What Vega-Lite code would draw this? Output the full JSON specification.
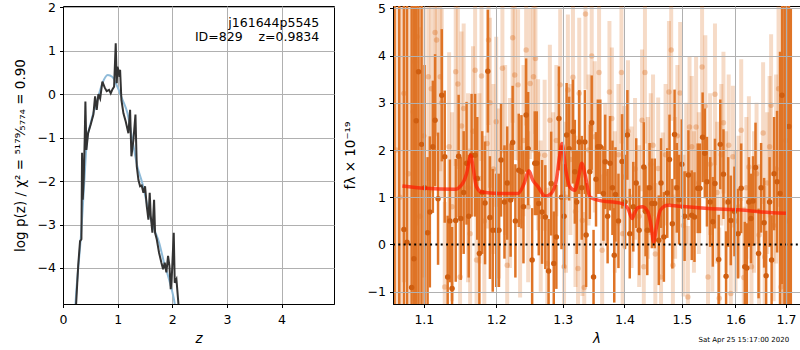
{
  "$schema": "https://vega.github.io/schema/vega-lite/v6.json",
  "padding": {"left": 12, "top": 0, "right": 0, "bottom": 0},
  "spacing": 59,
  "bounds": "flush",
  "config": {
    "font": "DejaVu Sans",
    "view": {"stroke": "black", "strokeWidth": 1},
    "axis": {"domainColor": "black", "domainWidth": 1, "tickColor": "black", "tickSize": 3.5, "tickWidth": 1,
      "labelFontSize": 12.5, "labelColor": "black", "labelFont": "DejaVu Sans", "labelFlush": false, "labelOverlap": false,
      "titleFontSize": 13.5, "titleFontWeight": "normal", "titleColor": "black", "titleFont": "DejaVu Sans",
      "gridColor": "#b0b0b0", "gridWidth": 1, "labelPadding": 4, "titlePadding": 6}
  },
  "datasets": {
    "blue": [
      {"z": 0.21, "lp": -5.2}, {"z": 0.24, "lp": -4.6}, {"z": 0.30, "lp": -3.7}, {"z": 0.324, "lp": -3.34},
      {"z": 0.385, "lp": -2.12}, {"z": 0.434, "lp": -1.12}, {"z": 0.506, "lp": -0.67}, {"z": 0.63, "lp": -0.13},
      {"z": 0.72, "lp": 0.25}, {"z": 0.82, "lp": 0.44}, {"z": 0.90, "lp": 0.40}, {"z": 0.996, "lp": 0.17},
      {"z": 1.09, "lp": -0.13}, {"z": 1.18, "lp": -0.44}, {"z": 1.27, "lp": -1.05}, {"z": 1.36, "lp": -1.66},
      {"z": 1.45, "lp": -2.04}, {"z": 1.575, "lp": -2.73}, {"z": 1.67, "lp": -3.11}, {"z": 1.76, "lp": -3.42},
      {"z": 1.85, "lp": -3.88}, {"z": 1.94, "lp": -4.26}, {"z": 2.03, "lp": -4.72}, {"z": 2.08, "lp": -5.1}
    ],
    "dark": [
      {"z": 0.225, "lp": -5.5}, {"z": 0.24, "lp": -4.83}, {"z": 0.278, "lp": -3.95}, {"z": 0.312, "lp": -3.38},
      {"z": 0.337, "lp": -3.34}, {"z": 0.349, "lp": -1.35}, {"z": 0.361, "lp": -2.43}, {"z": 0.379, "lp": -1.97},
      {"z": 0.397, "lp": -1.05}, {"z": 0.41, "lp": -0.17}, {"z": 0.428, "lp": -1.28}, {"z": 0.459, "lp": -0.9},
      {"z": 0.507, "lp": -0.7}, {"z": 0.556, "lp": -0.47}, {"z": 0.587, "lp": -0.05}, {"z": 0.617, "lp": -0.36},
      {"z": 0.648, "lp": 0.0}, {"z": 0.68, "lp": -0.1}, {"z": 0.721, "lp": 0.29}, {"z": 0.764, "lp": 0.15},
      {"z": 0.8, "lp": 0.07}, {"z": 0.843, "lp": 0.1}, {"z": 0.874, "lp": 0.02}, {"z": 0.904, "lp": 0.11},
      {"z": 0.935, "lp": 0.17}, {"z": 0.965, "lp": 1.17}, {"z": 0.984, "lp": 0.25}, {"z": 0.996, "lp": 0.63},
      {"z": 1.014, "lp": 0.56}, {"z": 1.032, "lp": 0.4}, {"z": 1.045, "lp": 0.56}, {"z": 1.069, "lp": -0.13},
      {"z": 1.106, "lp": -0.44}, {"z": 1.148, "lp": -0.63}, {"z": 1.197, "lp": -0.9}, {"z": 1.228, "lp": -0.36},
      {"z": 1.252, "lp": -1.43}, {"z": 1.289, "lp": -1.05}, {"z": 1.326, "lp": -0.47}, {"z": 1.35, "lp": -1.66},
      {"z": 1.38, "lp": -1.97}, {"z": 1.411, "lp": -2.12}, {"z": 1.44, "lp": -2.1}, {"z": 1.472, "lp": -2.27},
      {"z": 1.502, "lp": -2.12}, {"z": 1.533, "lp": -2.58}, {"z": 1.563, "lp": -2.89}, {"z": 1.587, "lp": -2.27},
      {"z": 1.606, "lp": -2.8}, {"z": 1.636, "lp": -3.19}, {"z": 1.667, "lp": -2.43}, {"z": 1.685, "lp": -3.19},
      {"z": 1.716, "lp": -3.34}, {"z": 1.758, "lp": -3.65}, {"z": 1.801, "lp": -3.88}, {"z": 1.832, "lp": -4.03},
      {"z": 1.862, "lp": -3.88}, {"z": 1.892, "lp": -4.1}, {"z": 1.923, "lp": -3.72}, {"z": 1.948, "lp": -3.95},
      {"z": 1.972, "lp": -4.49}, {"z": 1.995, "lp": -4.1}, {"z": 2.027, "lp": -3.19}, {"z": 2.045, "lp": -4.34},
      {"z": 2.076, "lp": -4.26}, {"z": 2.113, "lp": -4.83}, {"z": 2.14, "lp": -5.5}
    ],
    "spec_dark": [
      {"l": 1.062, "f": 6.5, "e": 8}, {"l": 1.068, "f": 6.0, "e": 8},
      {"l": 1.074, "f": 0.32, "e": 6}, {"l": 1.078, "f": 0.05, "e": 6}, {"l": 1.084, "f": -0.91, "e": 6},
      {"l": 1.087, "f": -0.3, "e": 6}, {"l": 1.090, "f": 2.62, "e": 5}, {"l": 1.093, "f": 3.66, "e": 5}, {"l": 1.097, "f": 2.12, "e": 4},
      {"l": 1.101, "f": 1.2, "e": 2.6}, {"l": 1.105, "f": 0.25, "e": 1.6}, {"l": 1.108, "f": 0.69, "e": 1.6}, {"l": 1.112, "f": 2.07, "e": 1.4},
      {"l": 1.115, "f": 2.63, "e": 1.4}, {"l": 1.119, "f": 0.97, "e": 1.4}, {"l": 1.124, "f": 3.16, "e": 1.4}, {"l": 1.128, "f": 1.86, "e": 1.4},
      {"l": 1.132, "f": -0.69, "e": 1.3}, {"l": 1.135, "f": 0.5, "e": 1.3}, {"l": 1.138, "f": -0.93, "e": 1.3}, {"l": 1.143, "f": 0.51, "e": 1.3},
      {"l": 1.147, "f": 1.87, "e": 1.3}, {"l": 1.150, "f": 0.55, "e": 1.3}, {"l": 1.154, "f": 1.1, "e": 1.3}, {"l": 1.158, "f": 1.72, "e": 1.3},
      {"l": 1.161, "f": 0.6, "e": 1.3}, {"l": 1.165, "f": 1.89, "e": 1.3}, {"l": 1.170, "f": 1.89, "e": 1.3}, {"l": 1.173, "f": 1.4, "e": 1.3},
      {"l": 1.176, "f": -0.19, "e": 1.3}, {"l": 1.180, "f": 1.1, "e": 1.3}, {"l": 1.184, "f": 0.88, "e": 1.3}, {"l": 1.188, "f": 3.67, "e": 1.3},
      {"l": 1.191, "f": 0.57, "e": 1.3}, {"l": 1.195, "f": 0.30, "e": 1.3}, {"l": 1.200, "f": 0.3, "e": 1.2}, {"l": 1.204, "f": 0.3, "e": 1.2},
      {"l": 1.207, "f": 1.79, "e": 1.2}, {"l": 1.212, "f": 0.9, "e": 1.2}, {"l": 1.216, "f": 1.3, "e": 1.2}, {"l": 1.221, "f": 0.94, "e": 1.2},
      {"l": 1.224, "f": 2.16, "e": 1.2}, {"l": 1.228, "f": 0.5, "e": 1.2}, {"l": 1.233, "f": 1.57, "e": 1.2}, {"l": 1.237, "f": 1.54, "e": 1.2},
      {"l": 1.240, "f": 0.8, "e": 1.2}, {"l": 1.244, "f": 2.74, "e": 1.2}, {"l": 1.247, "f": 2.03, "e": 1.2}, {"l": 1.253, "f": -0.33, "e": 1.1},
      {"l": 1.257, "f": 1.72, "e": 1.1}, {"l": 1.260, "f": 1.72, "e": 1.1}, {"l": 1.263, "f": 0.87, "e": 1.1}, {"l": 1.268, "f": 0.69, "e": 1.1},
      {"l": 1.273, "f": 0.58, "e": 1.1}, {"l": 1.278, "f": -0.56, "e": 1.1}, {"l": 1.282, "f": 1.29, "e": 1.1}, {"l": 1.286, "f": -0.4, "e": 1.1},
      {"l": 1.290, "f": 0.16, "e": 1.1}, {"l": 1.294, "f": 2.67, "e": 1.1}, {"l": 1.298, "f": 1.0, "e": 1.1}, {"l": 1.302, "f": 0.6, "e": 1.1},
      {"l": 1.306, "f": 2.32, "e": 1.1}, {"l": 1.310, "f": 2.03, "e": 1.1}, {"l": 1.316, "f": 2.39, "e": 1.1}, {"l": 1.319, "f": 1.54, "e": 1.1},
      {"l": 1.322, "f": 0.9, "e": 1.1}, {"l": 1.326, "f": 2.17, "e": 1.1}, {"l": 1.330, "f": 1.2, "e": 1.1}, {"l": 1.335, "f": 2.17, "e": 1.1},
      {"l": 1.337, "f": 0.2, "e": 1.1}, {"l": 1.343, "f": 1.54, "e": 1.0}, {"l": 1.346, "f": 2.58, "e": 1.0}, {"l": 1.349, "f": -0.69, "e": 1.0},
      {"l": 1.353, "f": 1.38, "e": 1.0}, {"l": 1.356, "f": 2.07, "e": 1.0}, {"l": 1.360, "f": 2.07, "e": 1.0}, {"l": 1.365, "f": 1.08, "e": 1.0},
      {"l": 1.368, "f": 1.75, "e": 1.0}, {"l": 1.372, "f": 0.6, "e": 1.0}, {"l": 1.376, "f": 1.72, "e": 1.0}, {"l": 1.380, "f": 1.2, "e": 1.0},
      {"l": 1.383, "f": -0.23, "e": 1.0}, {"l": 1.385, "f": 1.06, "e": 1.0}, {"l": 1.390, "f": 0.5, "e": 1.0}, {"l": 1.396, "f": 1.76, "e": 1.0},
      {"l": 1.401, "f": 0.9, "e": 1.0}, {"l": 1.405, "f": 2.32, "e": 0.95}, {"l": 1.409, "f": 0.23, "e": 0.95}, {"l": 1.415, "f": 0.8, "e": 0.95},
      {"l": 1.420, "f": 1.3, "e": 0.95}, {"l": 1.425, "f": 0.3, "e": 0.95}, {"l": 1.433, "f": 1.64, "e": 0.95}, {"l": 1.436, "f": 0.7, "e": 0.95},
      {"l": 1.439, "f": 0.3, "e": 0.95}, {"l": 1.443, "f": 1.2, "e": 0.95}, {"l": 1.447, "f": 0.87, "e": 0.95}, {"l": 1.452, "f": 0.87, "e": 0.95},
      {"l": 1.459, "f": 0.09, "e": 0.95}, {"l": 1.463, "f": 1.3, "e": 0.95}, {"l": 1.468, "f": 0.16, "e": 0.95}, {"l": 1.474, "f": 1.09, "e": 0.95},
      {"l": 1.478, "f": 1.8, "e": 0.95}, {"l": 1.483, "f": 0.44, "e": 0.95}, {"l": 1.487, "f": 2.33, "e": 0.95}, {"l": 1.491, "f": 1.2, "e": 0.95},
      {"l": 1.495, "f": 0.95, "e": 0.95}, {"l": 1.500, "f": 1.7, "e": 0.95}, {"l": 1.505, "f": 0.6, "e": 0.95}, {"l": 1.512, "f": 1.47, "e": 0.95},
      {"l": 1.518, "f": 0.62, "e": 0.95}, {"l": 1.523, "f": 0.58, "e": 0.95}, {"l": 1.529, "f": 1.19, "e": 0.95}, {"l": 1.533, "f": 1.19, "e": 0.95},
      {"l": 1.538, "f": 2.27, "e": 0.95}, {"l": 1.542, "f": 1.93, "e": 0.95}, {"l": 1.546, "f": 1.33, "e": 0.95}, {"l": 1.552, "f": 0.9, "e": 0.95},
      {"l": 1.557, "f": 0.48, "e": 0.95}, {"l": 1.561, "f": 1.29, "e": 0.95}, {"l": 1.568, "f": -0.32, "e": 0.95}, {"l": 1.571, "f": 2.12, "e": 0.95},
      {"l": 1.577, "f": 1.49, "e": 0.95}, {"l": 1.582, "f": -0.67, "e": 0.95}, {"l": 1.586, "f": 0.9, "e": 0.95}, {"l": 1.591, "f": 0.51, "e": 0.95},
      {"l": 1.598, "f": 0.7, "e": 0.95}, {"l": 1.605, "f": 0.23, "e": 0.95}, {"l": 1.611, "f": 1.19, "e": 0.95}, {"l": 1.618, "f": -0.47, "e": 0.95},
      {"l": 1.622, "f": -0.5, "e": 0.95}, {"l": 1.626, "f": 0.9, "e": 0.95}, {"l": 1.630, "f": 0.55, "e": 0.95}, {"l": 1.634, "f": 0.92, "e": 0.95},
      {"l": 1.639, "f": 1.63, "e": 0.95}, {"l": 1.645, "f": -0.19, "e": 0.95}, {"l": 1.650, "f": 1.2, "e": 0.95}, {"l": 1.656, "f": 0.46, "e": 0.95},
      {"l": 1.660, "f": -0.66, "e": 0.95}, {"l": 1.667, "f": 0.9, "e": 0.95}, {"l": 1.671, "f": -0.33, "e": 0.95}, {"l": 1.676, "f": 1.5, "e": 1.2},
      {"l": 1.682, "f": 1.33, "e": 1.5}, {"l": 1.688, "f": 1.08, "e": 3}, {"l": 1.692, "f": 3.16, "e": 4}, {"l": 1.697, "f": -2.0, "e": 8},
      {"l": 1.701, "f": 6.0, "e": 8}, {"l": 1.706, "f": 2.5, "e": 8}, {"l": 1.710, "f": -3.0, "e": 8}
    ],
    "spec_light": [
      {"l": 1.064, "f": 2.0, "e": 6}, {"l": 1.069, "f": 1.0, "e": 6},
      {"l": 1.074, "f": 3.2, "e": 4}, {"l": 1.080, "f": 1.5, "e": 4}, {"l": 1.086, "f": 2.81, "e": 4}, {"l": 1.088, "f": 3.87, "e": 4},
      {"l": 1.091, "f": 4.4, "e": 4}, {"l": 1.095, "f": 0.6, "e": 4}, {"l": 1.100, "f": 2.3, "e": 3}, {"l": 1.106, "f": 3.55, "e": 2.2},
      {"l": 1.110, "f": 3.3, "e": 2.2}, {"l": 1.115, "f": 4.49, "e": 2.2}, {"l": 1.117, "f": 4.33, "e": 2.0}, {"l": 1.122, "f": 3.55, "e": 2.0},
      {"l": 1.124, "f": 3.0, "e": 2.0}, {"l": 1.128, "f": -0.9, "e": 1.8}, {"l": 1.134, "f": 2.07, "e": 2.0}, {"l": 1.138, "f": 0.8, "e": 2.0},
      {"l": 1.143, "f": 3.66, "e": 2.0}, {"l": 1.146, "f": 3.4, "e": 1.8}, {"l": 1.149, "f": -0.69, "e": 1.8}, {"l": 1.151, "f": 2.51, "e": 2.0},
      {"l": 1.154, "f": 2.88, "e": 1.8}, {"l": 1.160, "f": 1.2, "e": 2.0}, {"l": 1.163, "f": 0.23, "e": 1.8}, {"l": 1.167, "f": 2.4, "e": 1.8},
      {"l": 1.170, "f": 3.69, "e": 1.8}, {"l": 1.172, "f": -0.33, "e": 1.8}, {"l": 1.176, "f": 1.4, "e": 1.8}, {"l": 1.179, "f": 3.57, "e": 1.8},
      {"l": 1.183, "f": 0.5, "e": 1.8}, {"l": 1.187, "f": 2.14, "e": 1.8}, {"l": 1.189, "f": 4.33, "e": 1.8}, {"l": 1.191, "f": 3.0, "e": 1.8},
      {"l": 1.196, "f": 1.6, "e": 1.8}, {"l": 1.200, "f": 2.6, "e": 1.8}, {"l": 1.204, "f": 1.08, "e": 1.8}, {"l": 1.209, "f": 3.73, "e": 1.8},
      {"l": 1.213, "f": 2.0, "e": 1.8}, {"l": 1.216, "f": -0.44, "e": 1.8}, {"l": 1.220, "f": 1.3, "e": 1.8}, {"l": 1.224, "f": 4.38, "e": 1.8},
      {"l": 1.227, "f": 3.59, "e": 1.8}, {"l": 1.232, "f": 3.38, "e": 1.6}, {"l": 1.235, "f": 0.48, "e": 1.6}, {"l": 1.240, "f": 2.2, "e": 1.6},
      {"l": 1.244, "f": 4.12, "e": 1.6}, {"l": 1.247, "f": 0.8, "e": 1.6}, {"l": 1.250, "f": 3.41, "e": 1.6}, {"l": 1.255, "f": 3.55, "e": 1.6},
      {"l": 1.258, "f": 3.94, "e": 1.6}, {"l": 1.262, "f": 1.9, "e": 1.6}, {"l": 1.266, "f": 0.6, "e": 1.6}, {"l": 1.272, "f": 1.89, "e": 1.6},
      {"l": 1.276, "f": -0.4, "e": 1.6}, {"l": 1.280, "f": 2.63, "e": 1.6}, {"l": 1.285, "f": 1.2, "e": 1.6}, {"l": 1.290, "f": 2.2, "e": 1.6},
      {"l": 1.296, "f": 3.38, "e": 1.6}, {"l": 1.302, "f": -0.47, "e": 1.6}, {"l": 1.305, "f": 1.0, "e": 1.6}, {"l": 1.308, "f": 3.27, "e": 1.6},
      {"l": 1.312, "f": 1.8, "e": 1.6}, {"l": 1.316, "f": 3.54, "e": 1.6}, {"l": 1.320, "f": 0.7, "e": 1.6}, {"l": 1.324, "f": -0.51, "e": 1.6},
      {"l": 1.326, "f": 3.2, "e": 1.6}, {"l": 1.331, "f": 0.51, "e": 1.6}, {"l": 1.334, "f": -0.91, "e": 1.6}, {"l": 1.336, "f": 4.88, "e": 1.6},
      {"l": 1.341, "f": 2.0, "e": 1.6}, {"l": 1.346, "f": 3.99, "e": 1.6}, {"l": 1.351, "f": 2.28, "e": 1.6}, {"l": 1.358, "f": 3.64, "e": 1.6},
      {"l": 1.363, "f": -0.12, "e": 1.6}, {"l": 1.368, "f": 1.5, "e": 1.5}, {"l": 1.375, "f": 3.23, "e": 1.5}, {"l": 1.379, "f": 2.67, "e": 1.5},
      {"l": 1.384, "f": 0.9, "e": 1.5}, {"l": 1.390, "f": 1.9, "e": 1.5}, {"l": 1.395, "f": 3.64, "e": 1.5}, {"l": 1.397, "f": 0.23, "e": 1.5},
      {"l": 1.400, "f": 1.43, "e": 1.5}, {"l": 1.406, "f": 2.4, "e": 1.5}, {"l": 1.412, "f": 1.0, "e": 1.5}, {"l": 1.418, "f": 1.6, "e": 1.5},
      {"l": 1.425, "f": 0.6, "e": 1.5}, {"l": 1.430, "f": 2.63, "e": 1.5}, {"l": 1.433, "f": -0.47, "e": 1.5}, {"l": 1.435, "f": 3.64, "e": 1.5},
      {"l": 1.440, "f": 1.2, "e": 1.5}, {"l": 1.445, "f": 1.7, "e": 1.5}, {"l": 1.449, "f": 2.1, "e": 1.5}, {"l": 1.453, "f": -0.2, "e": 1.5},
      {"l": 1.458, "f": 1.61, "e": 1.5}, {"l": 1.463, "f": -0.69, "e": 1.5}, {"l": 1.466, "f": 0.87, "e": 1.5}, {"l": 1.471, "f": 1.9, "e": 1.5},
      {"l": 1.477, "f": 3.23, "e": 1.5}, {"l": 1.481, "f": 4.12, "e": 1.5}, {"l": 1.484, "f": -0.44, "e": 1.5}, {"l": 1.488, "f": 1.2, "e": 1.5},
      {"l": 1.492, "f": 2.3, "e": 1.5}, {"l": 1.497, "f": 3.21, "e": 1.5}, {"l": 1.503, "f": 0.4, "e": 1.5}, {"l": 1.508, "f": 1.5, "e": 1.5},
      {"l": 1.511, "f": -1.11, "e": 1.5}, {"l": 1.514, "f": 2.49, "e": 1.5}, {"l": 1.518, "f": 2.07, "e": 1.5}, {"l": 1.522, "f": 0.9, "e": 1.5},
      {"l": 1.526, "f": 2.49, "e": 1.5}, {"l": 1.531, "f": 1.3, "e": 1.5}, {"l": 1.537, "f": 3.76, "e": 1.5}, {"l": 1.543, "f": 2.93, "e": 1.5},
      {"l": 1.548, "f": -0.69, "e": 1.5}, {"l": 1.552, "f": 1.7, "e": 1.5}, {"l": 1.556, "f": 0.5, "e": 1.5}, {"l": 1.561, "f": 3.18, "e": 1.5},
      {"l": 1.565, "f": 1.1, "e": 1.5}, {"l": 1.569, "f": -1.14, "e": 1.5}, {"l": 1.573, "f": 1.9, "e": 1.5}, {"l": 1.577, "f": 2.58, "e": 1.5},
      {"l": 1.582, "f": 0.9, "e": 1.5}, {"l": 1.587, "f": 2.1, "e": 1.5}, {"l": 1.591, "f": -1.04, "e": 1.5}, {"l": 1.595, "f": 1.86, "e": 1.5},
      {"l": 1.600, "f": 0.5, "e": 1.5}, {"l": 1.606, "f": 0.8, "e": 1.5}, {"l": 1.611, "f": 2.42, "e": 1.5}, {"l": 1.616, "f": -0.7, "e": 1.5},
      {"l": 1.621, "f": 1.2, "e": 1.5}, {"l": 1.626, "f": 1.64, "e": 1.5}, {"l": 1.631, "f": -0.47, "e": 1.5}, {"l": 1.636, "f": 0.9, "e": 1.5},
      {"l": 1.641, "f": 1.5, "e": 1.5}, {"l": 1.646, "f": 0.2, "e": 1.5}, {"l": 1.654, "f": 2.36, "e": 1.5}, {"l": 1.657, "f": -0.26, "e": 1.5},
      {"l": 1.662, "f": 1.3, "e": 1.5}, {"l": 1.667, "f": 2.07, "e": 1.5}, {"l": 1.670, "f": 2.95, "e": 1.5}, {"l": 1.675, "f": 0.4, "e": 1.6},
      {"l": 1.680, "f": 1.6, "e": 2}, {"l": 1.685, "f": 3.3, "e": 2.5}, {"l": 1.690, "f": -0.9, "e": 3}, {"l": 1.695, "f": 1.0, "e": 4},
      {"l": 1.700, "f": 2.2, "e": 5}, {"l": 1.705, "f": 0.5, "e": 5}
    ],
    "model": [
      {"l": 1.072, "f": 1.24}, {"l": 1.101, "f": 1.19}, {"l": 1.142, "f": 1.17}, {"l": 1.151, "f": 1.26}, {"l": 1.158, "f": 1.5},
      {"l": 1.164, "f": 1.89}, {"l": 1.167, "f": 1.64}, {"l": 1.172, "f": 1.22}, {"l": 1.179, "f": 1.11}, {"l": 1.203, "f": 1.08},
      {"l": 1.232, "f": 1.08}, {"l": 1.241, "f": 1.29}, {"l": 1.248, "f": 1.56}, {"l": 1.254, "f": 1.36}, {"l": 1.262, "f": 1.22},
      {"l": 1.273, "f": 1.02}, {"l": 1.282, "f": 1.08}, {"l": 1.290, "f": 1.36}, {"l": 1.295, "f": 1.86}, {"l": 1.299, "f": 2.14},
      {"l": 1.304, "f": 1.64}, {"l": 1.311, "f": 1.22}, {"l": 1.319, "f": 1.15}, {"l": 1.325, "f": 1.43}, {"l": 1.330, "f": 1.72},
      {"l": 1.336, "f": 1.43}, {"l": 1.343, "f": 1.01}, {"l": 1.356, "f": 0.94}, {"l": 1.395, "f": 0.87}, {"l": 1.406, "f": 0.76},
      {"l": 1.413, "f": 0.55}, {"l": 1.417, "f": 0.66}, {"l": 1.423, "f": 0.78}, {"l": 1.431, "f": 0.8}, {"l": 1.440, "f": 0.69},
      {"l": 1.446, "f": 0.37}, {"l": 1.450, "f": 0.05}, {"l": 1.455, "f": 0.37}, {"l": 1.462, "f": 0.73}, {"l": 1.475, "f": 0.83},
      {"l": 1.499, "f": 0.81}, {"l": 1.548, "f": 0.76}, {"l": 1.611, "f": 0.73}, {"l": 1.650, "f": 0.69}, {"l": 1.700, "f": 0.66}
    ],
    "zero": [{"l": 1.06, "f": 0}, {"l": 1.729, "f": 0}]
  },
  "hconcat": [
    {
      "width": 271,
      "height": 298,
      "encoding": {
        "x": {"field": "z", "type": "quantitative", "scale": {"domain": [0, 4.96], "nice": false, "zero": false},
          "axis": {"values": [0, 1, 2, 3, 4], "title": "z", "titleFontStyle": "italic", "labelPadding": 6, "titlePadding": 5}},
        "y": {"field": "lp", "type": "quantitative", "scale": {"domain": [-4.83, 2.03], "nice": false, "zero": false},
          "axis": {"values": [-4, -3, -2, -1, 0, 1, 2], "title": "log p(z) / χ² = ⁵¹⁷⁹⁄₅₇₇₄ = 0.90", "titlePadding": 10}}
      },
      "layer": [
        {"data": {"name": "blue"}, "mark": {"type": "line", "color": "#8fbbd9", "strokeWidth": 2, "clip": true, "interpolate": "monotone"}},
        {"data": {"name": "dark"}, "mark": {"type": "line", "color": "#333333", "strokeWidth": 2, "clip": true}},
        {"data": {"values": [
            {"z": 4.69, "lp": 1.64, "t": "j161644p5545"},
            {"z": 4.69, "lp": 1.31, "t": "ID=829\u00a0\u00a0\u00a0\u00a0z=0.9834"}
          ]},
          "mark": {"type": "text", "align": "right", "baseline": "middle", "fontSize": 12.5, "color": "black"},
          "encoding": {"text": {"field": "t"}}}
      ]
    },
    {
      "width": 407,
      "height": 298,
      "encoding": {
        "x": {"field": "l", "type": "quantitative", "scale": {"type": "log", "domain": [1.06, 1.729], "nice": false, "zero": false},
          "axis": {"values": [1.1, 1.2, 1.3, 1.4, 1.5, 1.6, 1.7], "format": ".1f", "title": "λ", "titleFontStyle": "italic", "labelPadding": 6, "titlePadding": 5, "zindex": 1}},
        "y": {"field": "f", "type": "quantitative", "scale": {"domain": [-1.26, 5.05], "nice": false, "zero": false},
          "axis": {"values": [-1, 0, 1, 2, 3, 4, 5], "title": "fλ × 10⁻¹⁹", "titlePadding": 10, "zindex": 1,
            "gridOpacity": {"expr": "datum.value === 0 ? 0 : 1"}}}
      },
      "layer": [
        {"data": {"name": "spec_light"}, "mark": {"type": "errorbar", "thickness": 4, "color": "#d65a00", "opacity": 0.22, "clip": true},
          "encoding": {"yError": {"field": "e"}}},
        {"data": {"name": "spec_light"}, "mark": {"type": "circle", "size": 30, "color": "#d65a00", "opacity": 0.28, "clip": true}},
        {"data": {"name": "spec_dark"}, "mark": {"type": "errorbar", "thickness": 2.5, "color": "#df7426", "opacity": 1, "clip": true},
          "encoding": {"yError": {"field": "e"}}},
        {"data": {"name": "spec_dark"}, "mark": {"type": "circle", "size": 30, "color": "#cf5e10", "opacity": 1, "clip": true}},
        {"data": {"name": "model"}, "mark": {"type": "line", "color": "#ff1a00", "opacity": 0.7, "strokeWidth": 3.5, "interpolate": "monotone", "clip": true}},
        {"data": {"name": "zero"}, "mark": {"type": "line", "color": "black", "strokeWidth": 2, "strokeDash": [2, 3.3], "clip": true}},
        {"data": {"values": [{"l": 1.616, "f": -2.03, "t": "Sat Apr 25 15:17:00 2020"}]},
          "mark": {"type": "text", "align": "center", "baseline": "middle", "fontSize": 7, "color": "black"},
          "encoding": {"text": {"field": "t"}}}
      ]
    }
  ]
}
